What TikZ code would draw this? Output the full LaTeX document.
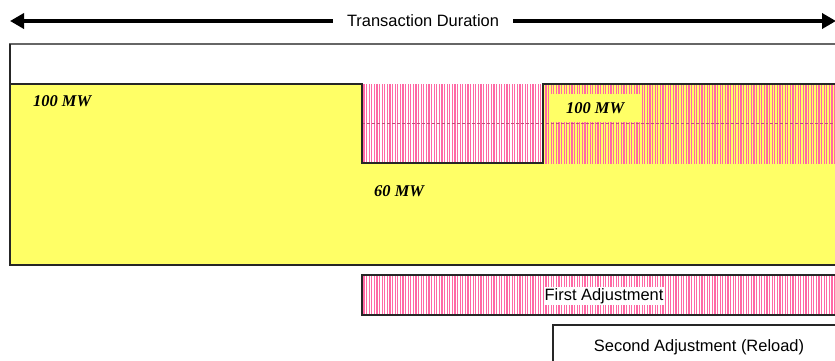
\documentclass[tikz,border=0pt]{standalone}
\usepackage{fontspec}
\setmainfont{Liberation Serif}
\setsansfont{Liberation Sans}
\usetikzlibrary{arrows.meta,patterns.meta}
\definecolor{pyellow}{RGB}{255,255,102}
\definecolor{phatch}{RGB}{255,105,165}
\begin{document}
\begin{tikzpicture}[x=1bp,y=-1bp,
  lbl/.style={font=\fontsize{16.5}{19}\selectfont\sffamily},
  mw/.style={font=\fontsize{16.5}{19}\selectfont\rmfamily\bfseries\itshape, anchor=west, inner sep=0pt},
  edge/.style={draw=black!85, line width=1.3bp},
  hatch/.style={pattern={Lines[angle=90,distance=2.6bp,line width=1.1bp]}, pattern color=phatch},
  bigarrow/.style={line width=4.2bp, -{Triangle[length=14bp,width=15bp]}}]
\useasboundingbox (0,0) rectangle (835,360);
% title arrow
\node (td) [lbl, inner xsep=14bp] at (423,21) {Transaction Duration};
\coordinate (al) at (10,21);
\coordinate (ar) at (836,21);
\draw[bigarrow] (td.west) -- (al);
\draw[bigarrow] (td.east) -- (ar);
% outer box
\draw[edge, draw=black!60] (10,265) -- (10,44) -- (840,44);
% yellow region
\fill[pyellow] (10,84) -- (362,84) -- (362,163) -- (543,163) -- (543,84) -- (840,84) -- (840,265) -- (10,265) -- cycle;
% hatched band
\fill[hatch] (362,84) rectangle (840,163);
\draw[phatch!75!black, densely dashed, line width=0.3bp] (362,123) -- (840,123);
% borders of yellow region
\draw[edge] (10,84) -- (362,84) -- (362,163) -- (543,163) -- (543,84) -- (840,84);
\draw[edge] (10,44) -- (10,265) -- (840,265);
% labels
\node (mwa) [mw] at (33,101) {100 MW};
\node (mwb) [mw, fill=pyellow, inner xsep=16bp, inner ysep=8bp] at (550,108) {100 MW};
\node (mwc) [mw] at (374,191) {60 MW};
% first adjustment
\fill[white] (362,275) rectangle (840,315);
\fill[hatch] (362,275) rectangle (840,315);
\draw[edge] (840,275) -- (362,275) -- (362,315) -- (840,315);
\node (fa) [lbl, fill=white, inner sep=1bp] at (604,296) {First Adjustment};
% second adjustment
\draw[edge, fill=white] (840,325) -- (553,325) -- (553,370) -- (840,370);
\node (sa) [lbl] at (699,347) {Second Adjustment (Reload)};
\end{tikzpicture}
\end{document}
